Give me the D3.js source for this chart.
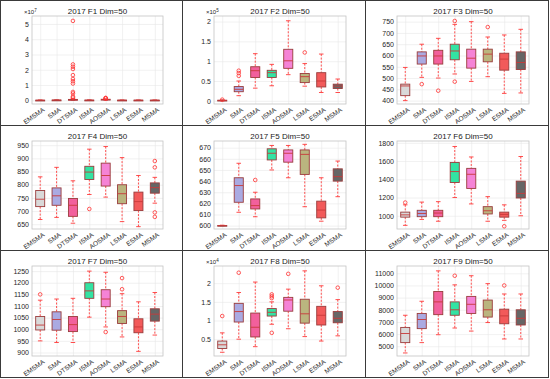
<!DOCTYPE html>
<html>
<head>
<meta charset="utf-8">
<script src="https://cdn.jsdelivr.net/npm/d3@7"></script>
<style>
body { margin: 0; background: #fff; }
text { font-family: "Liberation Sans", Arial, sans-serif; }
</style>
</head>
<body>
<svg id="chart" width="550" height="379"></svg>
<script>
const algos = ["EMSMA", "SMA", "DTSMA", "ISMA", "AOSMA", "LSMA", "ESMA", "MSMA"];
const fills = ["#d9d9d9", "#aaaae2", "#f2609c", "#33e3a3", "#f583d6", "#bab57f", "#f25a5a", "#666666"];

// each box: [low whisker, q1, median, q3, high whisker]
const f1Box = [[0, 0.003, 0.006, 0.01, 0.02], [0.005, 0.01, 0.015, 0.02, 0.03], [0, 0.01, 0.03, 0.06, 0.12],
  [0, 0.005, 0.01, 0.015, 0.03], [0.01, 0.03, 0.05, 0.07, 0.1], [0, 0.004, 0.008, 0.012, 0.02],
  [0, 0.004, 0.008, 0.012, 0.02], [0, 0.004, 0.008, 0.012, 0.02]];
const f1Out = [[], [], [5.2, 2.35, 2.2, 2.05, 1.65, 1.4, 1.25, 1.1, 0.55, 0.45, 0.25, 0.18], [],
  [0.12, 0.14, 0.16], [], [], []];
const f1Ticks = [0, 1, 2, 3, 4, 5];

const f2Box = [[0, 0.005, 0.01, 0.015, 0.025], [0.13, 0.23, 0.29, 0.36, 0.5], [0.32, 0.59, 0.76, 0.86, 1.19],
  [0.38, 0.59, 0.71, 0.77, 0.92], [0.66, 0.82, 1.01, 1.3, 2.02], [0.37, 0.46, 0.61, 0.69, 0.94],
  [0.21, 0.35, 0.5, 0.71, 1.18], [0.21, 0.31, 0.37, 0.42, 0.55]];
const f2Out = [[0.03], [0.76, 0.7, 0.63], [], [], [], [1.22], [], []];
const f2Ticks = [0, 0.5, 1, 1.5, 2];

const f3Box = [[400, 422, 465, 473, 547], [503, 562, 598, 616, 650], [500, 562, 598, 623, 676],
  [518, 581, 620, 650, 738], [485, 544, 588, 628, 750], [506, 572, 606, 628, 682],
  [432, 535, 584, 610, 691], [434, 538, 569, 616, 716]];
const f3Out = [[], [473], [444], [753, 484], [], [726], [], []];
const f3Ticks = [400, 450, 500, 550, 600, 650, 700, 750];

const f4Box = [[668, 717, 745, 778, 830], [676, 722, 758, 788, 866], [654, 680, 722, 748, 815],
  [763, 820, 848, 870, 935], [753, 795, 835, 882, 945], [660, 728, 766, 800, 903],
  [641, 702, 736, 772, 835], [730, 768, 789, 807, 828]];
const f4Out = [[], [], [], [708], [], [], [], [890, 866, 695, 678]];
const f4Ticks = [650, 700, 750, 800, 850, 900, 950];

const f5Box = [[599.8, 600, 600.1, 600.2, 600.4], [612, 621, 636, 643, 656], [608, 615, 618, 624, 630],
  [650, 659, 665, 669, 672], [643, 657, 665, 668, 672], [617, 646, 664, 668, 673],
  [604, 607, 614, 622, 643], [626, 640, 644, 651, 658]];
const f5Out = [[], [], [641], [], [], [], [], []];
const f5Ticks = [600, 610, 620, 630, 640, 650, 660, 670];

const f6Box = [[895, 985, 1010, 1040, 1120], [960, 990, 1025, 1060, 1150], [940, 990, 1030, 1060, 1155],
  [1200, 1365, 1485, 1585, 1760], [1130, 1300, 1455, 1520, 1645], [940, 1020, 1055, 1100, 1210],
  [950, 985, 1015, 1040, 1120], [1000, 1195, 1245, 1380, 1650]];
const f6Out = [[1145], [], [], [], [], [], [885], []];
const f6Ticks = [1000, 1200, 1400, 1600, 1800];

const f7Box = [[950, 997, 1018, 1055, 1125], [943, 996, 1042, 1075, 1130], [943, 990, 1020, 1055, 1133],
  [1052, 1133, 1165, 1200, 1250], [1010, 1097, 1130, 1170, 1245], [967, 1025, 1055, 1080, 1153],
  [905, 985, 1010, 1045, 1118], [975, 1035, 1065, 1088, 1158]];
const f7Out = [[1150], [], [], [], [988], [1172, 1220], [], []];
const f7Ticks = [900, 950, 1000, 1050, 1100, 1150, 1200, 1250];

const f8Box = [[0.15, 0.25, 0.35, 0.45, 0.67], [0.5, 0.96, 1.24, 1.46, 1.75], [0.3, 0.56, 0.82, 1.2, 2.03],
  [0.9, 1.12, 1.22, 1.32, 1.5], [0.78, 1.25, 1.55, 1.62, 1.84], [0.57, 0.93, 1.18, 1.57, 2.33],
  [0.45, 0.88, 1.14, 1.38, 1.93], [0.59, 0.94, 1.06, 1.24, 1.56]];
const f8Out = [[1.12], [2.28], [], [1.6, 1.65, 1.7, 0.67], [2.25], [], [], [1.88]];
const f8Ticks = [0.5, 1, 1.5, 2];

const f9Box = [[4450, 5300, 6050, 6550, 7550], [5300, 6450, 7200, 7700, 8700], [5950, 7600, 8650, 9500, 11200],
  [6500, 7550, 8000, 8650, 10050], [6250, 7700, 8450, 9100, 10800], [6950, 7400, 8000, 8800, 10150],
  [5600, 6850, 7500, 8050, 9300], [5600, 6750, 7300, 8000, 9300]];
const f9Out = [[], [], [], [10800], [], [], [10000], []];
const f9Ticks = [5000, 6000, 7000, 8000, 9000, 10000, 11000];

const panels = [
  {title: "2017 F1 Dim=50", box: f1Box, out: f1Out, ticks: f1Ticks, domain: [-0.24, 5.52], exp: 7},
  {title: "2017 F2 Dim=50", box: f2Box, out: f2Out, ticks: f2Ticks, domain: [-0.08, 2.14], exp: 5},
  {title: "2017 F3 Dim=50", box: f3Box, out: f3Out, ticks: f3Ticks, domain: [385, 775]},
  {title: "2017 F4 Dim=50", box: f4Box, out: f4Out, ticks: f4Ticks, domain: [632, 966]},
  {title: "2017 F5 Dim=50", box: f5Box, out: f5Out, ticks: f5Ticks, domain: [597, 676]},
  {title: "2017 F6 Dim=50", box: f6Box, out: f6Out, ticks: f6Ticks, domain: [855, 1820]},
  {title: "2017 F7 Dim=50", box: f7Box, out: f7Out, ticks: f7Ticks, domain: [885, 1272]},
  {title: "2017 F8 Dim=50", box: f8Box, out: f8Out, ticks: f8Ticks, domain: [0.05, 2.46], exp: 4},
  {title: "2017 F9 Dim=50", box: f9Box, out: f9Out, ticks: f9Ticks, domain: [4200, 11600]}
];

const svg = d3.select("#chart");
const colX = [0.5, 182.5, 365.5, 548.5];
const rowY = [0.5, 125.5, 250.5, 377.5];
const ml = 31, mr = 20, mt = 15, mb = 22;

panels.forEach((p, k) => {
  const c = k % 3, r = Math.floor(k / 3);
  const pw = colX[c + 1] - colX[c], ph = rowY[r + 1] - rowY[r];

  svg.append("rect")
    .attr("x", colX[c]).attr("y", rowY[r])
    .attr("width", pw).attr("height", ph)
    .attr("fill", "none").attr("stroke", "#3a3a3a").attr("stroke-width", 1);

  const w = pw - ml - mr, h = ph - mt - mb;
  const g = svg.append("g").attr("transform", `translate(${Math.round(colX[c] + ml)},${Math.round(rowY[r] + mt)})`);

  const x = d3.scalePoint().domain(algos).range([0, w]).padding(0.5);
  const y = d3.scaleLinear().domain(p.domain).range([h, 0]);
  const bw = x.step() * 0.55;

  // grid via axes
  const yAxis = g.append("g")
    .call(d3.axisLeft(y).tickValues(p.ticks).tickSize(-w).tickPadding(3).tickFormat(d => String(d)));
  const xAxis = g.append("g").attr("transform", `translate(0,${h})`)
    .call(d3.axisBottom(x).tickSize(-h));
  [yAxis, xAxis].forEach(a => {
    a.select(".domain").remove();
    a.selectAll("line").attr("stroke", "#e8e8e8").attr("stroke-width", 0.6);
    a.selectAll("text").attr("fill", "#262626").style("font-size", "7px");
  });
  xAxis.selectAll("text")
    .style("font-size", "6.5px")
    .attr("text-anchor", "end")
    .attr("y", 0)
    .attr("dy", "0.35em")
    .attr("transform", "translate(3,5) rotate(-35)");

  g.append("rect").attr("width", w).attr("height", h)
    .attr("fill", "none").attr("stroke", "#c4c4c4").attr("stroke-width", 0.8);

  g.append("text").attr("x", w / 2).attr("y", -2.5)
    .attr("text-anchor", "middle").attr("fill", "#1a1a1a")
    .style("font-size", "8px").text(p.title);

  if (p.exp) {
    const t = g.append("text").attr("x", -8).attr("y", -2).attr("fill", "#262626").style("font-size", "6px");
    t.append("tspan").text("\u00d710");
    t.append("tspan").attr("dy", -2.5).style("font-size", "4.5px").text(p.exp);
  }

  const boxes = g.selectAll(".bx").data(p.box).enter().append("g")
    .attr("transform", (d, i) => `translate(${x(algos[i])},0)`);

  // whiskers
  boxes.append("line").attr("y1", d => y(d[4])).attr("y2", d => y(d[3]))
    .attr("stroke", "#ff3b3b").attr("stroke-width", 0.9).attr("stroke-dasharray", "2,1.5");
  boxes.append("line").attr("y1", d => y(d[1])).attr("y2", d => y(d[0]))
    .attr("stroke", "#ff3b3b").attr("stroke-width", 0.9).attr("stroke-dasharray", "2,1.5");
  boxes.append("line").attr("x1", -bw / 4).attr("x2", bw / 4)
    .attr("y1", d => y(d[4])).attr("y2", d => y(d[4])).attr("stroke", "#ff3b3b").attr("stroke-width", 0.9);
  boxes.append("line").attr("x1", -bw / 4).attr("x2", bw / 4)
    .attr("y1", d => y(d[0])).attr("y2", d => y(d[0])).attr("stroke", "#ff3b3b").attr("stroke-width", 0.9);

  // box
  boxes.append("rect").attr("x", -bw / 2).attr("width", bw)
    .attr("y", d => y(d[3])).attr("height", d => Math.max(0.8, y(d[1]) - y(d[3])))
    .attr("fill", (d, i) => fills[i]).attr("stroke", "#9a3c3c").attr("stroke-width", 0.9);

  // median
  boxes.append("line").attr("x1", -bw / 2).attr("x2", bw / 2)
    .attr("y1", d => y(d[2])).attr("y2", d => y(d[2]))
    .attr("stroke", "#c83a3a").attr("stroke-width", 0.9);

  // outliers
  p.out.forEach((vals, i) => {
    g.selectAll(null).data(vals).enter().append("circle")
      .attr("cx", x(algos[i])).attr("cy", v => y(v)).attr("r", 1.8)
      .attr("fill", "none").attr("stroke", "#ff3030").attr("stroke-width", 0.8);
  });
});
</script>
</body>
</html>
